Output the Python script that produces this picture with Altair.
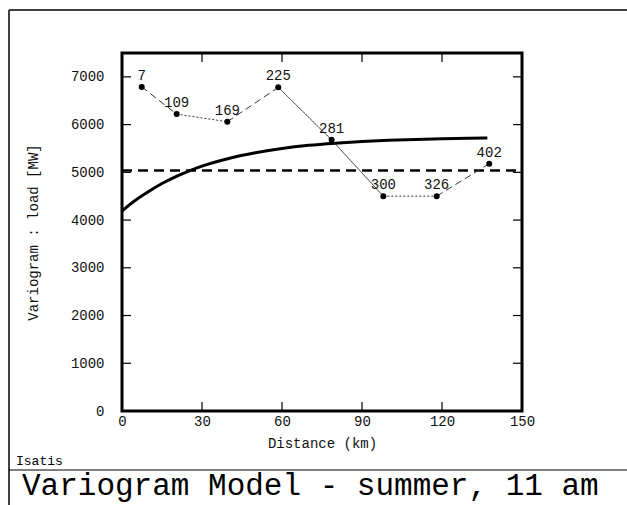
import altair as alt
import pandas as pd

# Experimental variogram: lag distance (km), variogram value, number of pairs
lag_km = [7.4, 20.5, 39.5, 58.6, 78.6, 98.0, 118.0, 137.7]
gamma = [6790, 6220, 6060, 6780, 5680, 4500, 4500, 5180]
pairs = [7, 109, 169, 225, 281, 300, 326, 402]
# Line style of the segment joining each lag to the next one
seg_style = ["dashed", "dotted", "dashed", "solid", "solid", "dotted", "dashed"]

# Fitted model curve
model_km = [0, 5, 10, 15, 20, 25, 30, 40, 50, 60, 70, 80, 90, 100, 110, 120, 130, 137]
model_gamma = [4190, 4415, 4600, 4765, 4905, 5025, 5130, 5290, 5410, 5500, 5565, 5610,
               5645, 5670, 5690, 5705, 5715, 5720]

# Experimental variance (sill reference)
variance = 5040

x_ticks = [0, 30, 60, 90, 120, 150]
y_ticks = [0, 1000, 2000, 3000, 4000, 5000, 6000, 7000]

FONT = "Liberation Mono"
W, H = 400, 358

exp_df = pd.DataFrame({"d": lag_km, "g": gamma, "n": pairs})
seg_df = pd.DataFrame({
    "d": lag_km[:-1], "g": gamma[:-1],
    "d2": lag_km[1:], "g2": gamma[1:],
    "style": seg_style,
})
model_df = pd.DataFrame({"d": model_km, "g": model_gamma})
var_df = pd.DataFrame({"d": [0], "d2": [150], "g": [variance]})
xt_df = pd.DataFrame({"t": x_ticks[1:-1]})
yt_df = pd.DataFrame({"t": y_ticks[1:]})

xs = alt.Scale(domain=[0, 150], nice=False, zero=False)
ys = alt.Scale(domain=[0, 7500], nice=False, zero=False)

x_axis = alt.Axis(values=x_ticks, ticks=False, grid=False, domain=False, format="d",
                  labelFlush=False, labelPadding=3, title="Distance (km)", titlePadding=8)
y_axis = alt.Axis(values=y_ticks, ticks=False, grid=False, domain=False, format="d",
                  labelFlush=False, labelPadding=18, title="Variogram : load [MW]",
                  titlePadding=30)

base_x = alt.X("d:Q", scale=xs, axis=x_axis)
base_y = alt.Y("g:Q", scale=ys, axis=y_axis)

segments = alt.Chart(seg_df).mark_rule(color="#333333", strokeWidth=1).encode(
    x=base_x, y=base_y, x2="d2:Q", y2="g2:Q",
    strokeDash=alt.StrokeDash(
        "style:N",
        scale=alt.Scale(domain=["dashed", "dotted", "solid"],
                        range=[[7, 4], [2, 2], [1, 0]]),
        legend=None,
    ),
)

points = alt.Chart(exp_df).mark_point(filled=True, color="black", size=36, opacity=1).encode(
    x=base_x, y=base_y
)

labels = alt.Chart(exp_df).mark_text(font=FONT, fontSize=14, dy=-11, color="#111111").encode(
    x=base_x, y=base_y, text="n:Q"
)

model = alt.Chart(model_df).mark_line(color="black", strokeWidth=3, interpolate="monotone").encode(
    x=base_x, y=base_y
)

sill = alt.Chart(var_df).mark_rule(color="black", strokeWidth=2.5, strokeDash=[10, 6]).encode(
    x=base_x, x2="d2:Q", y=base_y
)

tick_len = 9
top_ticks = alt.Chart(xt_df).mark_rule(color="black", strokeWidth=1.2).encode(
    x=alt.X("t:Q", scale=xs), y=alt.value(0), y2=alt.value(tick_len))
bot_ticks = alt.Chart(xt_df).mark_rule(color="black", strokeWidth=1.2).encode(
    x=alt.X("t:Q", scale=xs), y=alt.value(H - tick_len), y2=alt.value(H))
left_ticks = alt.Chart(yt_df).mark_rule(color="black", strokeWidth=1.2).encode(
    y=alt.Y("t:Q", scale=ys), x=alt.value(0), x2=alt.value(tick_len))
right_ticks = alt.Chart(yt_df).mark_rule(color="black", strokeWidth=1.2).encode(
    y=alt.Y("t:Q", scale=ys), x=alt.value(W - tick_len), x2=alt.value(W))

# Page frame around the plot and the caption band
frame_left = alt.Chart(var_df).mark_rule(color="black", strokeWidth=1.5).encode(
    x=alt.value(-113), y=alt.value(-43), y2=alt.value(452))
frame_top = alt.Chart(var_df).mark_rule(color="black", strokeWidth=1.5).encode(
    x=alt.value(-113), x2=alt.value(505), y=alt.value(-43))
frame_mid = alt.Chart(var_df).mark_rule(color="black", strokeWidth=1.2).encode(
    x=alt.value(-113), x2=alt.value(505), y=alt.value(417))

isatis = alt.Chart(var_df).mark_text(
    text="Isatis", font=FONT, fontSize=13, align="left", baseline="alphabetic", color="black"
).encode(x=alt.value(-106), y=alt.value(412))

caption = alt.Chart(var_df).mark_text(
    text="Variogram Model - summer, 11 am", font=FONT, fontSize=31, align="left",
    baseline="alphabetic", color="black"
).encode(x=alt.value(-100), y=alt.value(442))

chart = alt.layer(
    sill, model, segments, points, labels,
    top_ticks, bot_ticks, left_ticks, right_ticks,
    frame_left, frame_top, frame_mid, isatis, caption,
).properties(
    width=W, height=H,
    autosize=alt.AutoSizeParams(type="none"),
    padding={"left": 122, "top": 53, "right": 105, "bottom": 94},
    background="white",
).configure_view(
    stroke="black", strokeWidth=3, clip=False
).configure_axis(
    labelFont=FONT, titleFont=FONT, labelFontSize=14, titleFontSize=14,
    labelColor="#111111", titleColor="#111111", titleFontWeight="normal",
).configure_axisY(
    labelBaseline="middle"
)

chart.save("out.html", embed_options={"renderer": "svg", "actions": False})
